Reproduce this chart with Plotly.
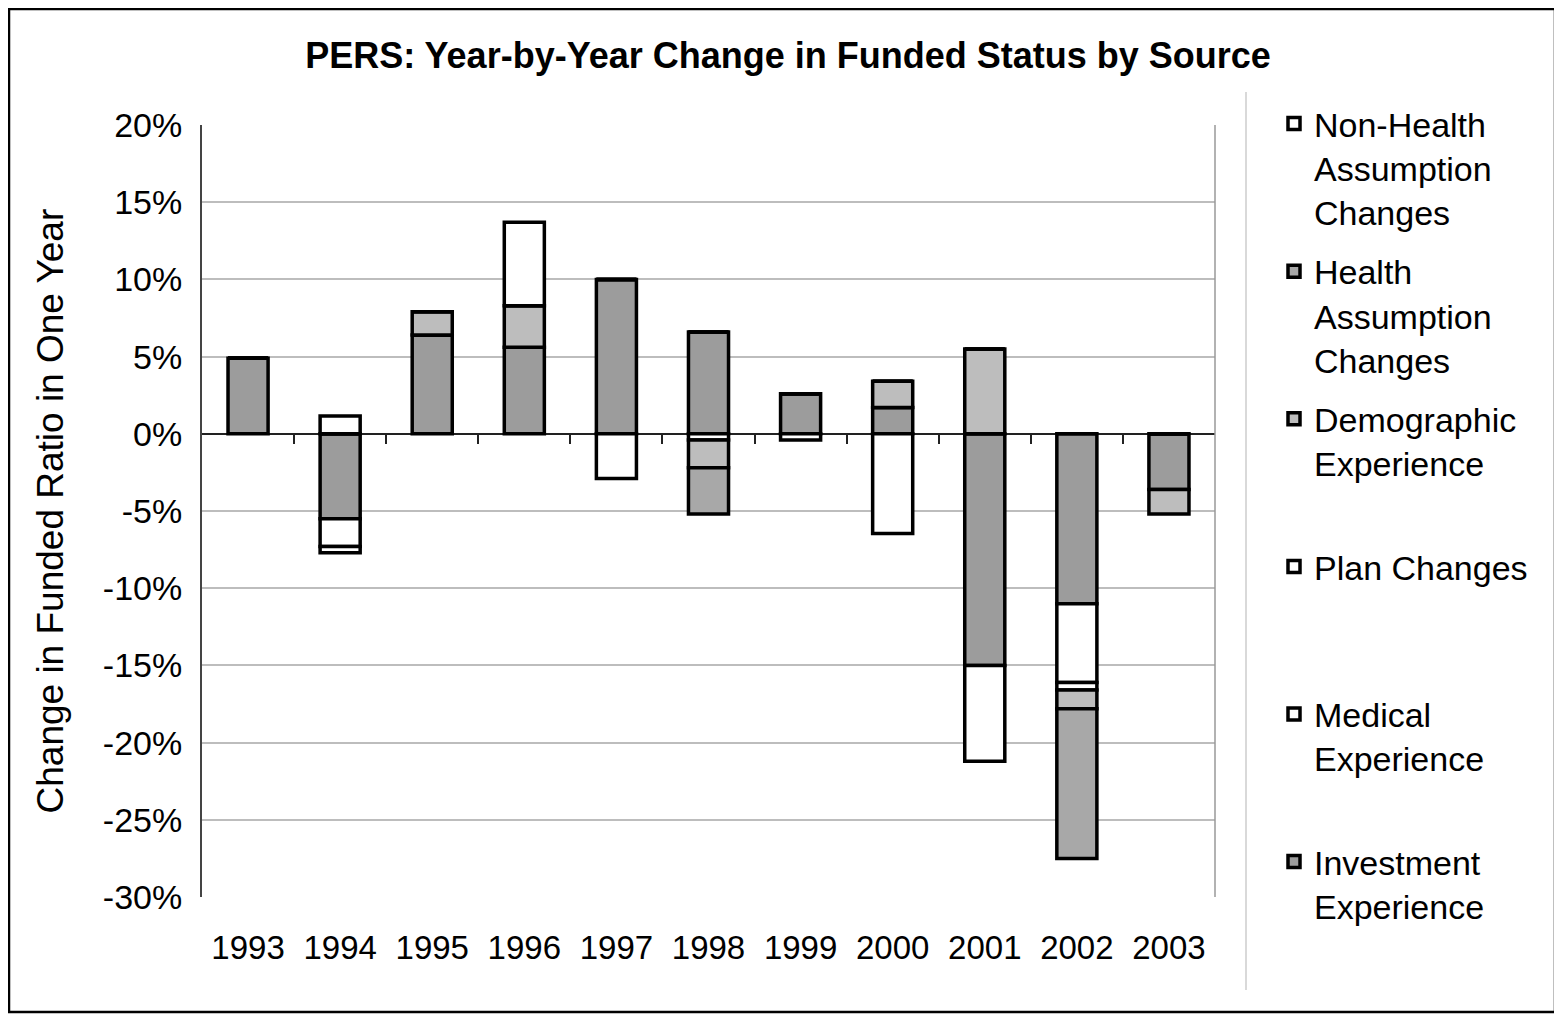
import plotly.graph_objects as go

years = ["1993", "1994", "1995", "1996", "1997", "1998", "1999", "2000", "2001", "2002", "2003"]

# values in percent (change in funded ratio), stack order from zero outward
investment = [4.9, -5.5, 6.4, 5.6, 10.0, 6.6, 2.6, 1.7, -15.0, -11.0, -3.6]
medical = [0, -1.8, 0, 0, -2.9, -0.4, -0.4, -6.45, -6.2, -5.1, 0]
plan = [0, -0.4, 0, 0, 0, 0, 0, 0, 0, -0.5, 0]
demographic = [0, 0, 1.5, 2.7, 0, -1.8, 0, 1.7, 5.5, -1.2, -1.6]
health = [0, 0, 0, 0, 0, -3.0, 0, 0, 0, -9.7, 0]
nonhealth = [0, 1.15, 0, 5.4, 0, 0, 0, 0, 0, 0, 0]

series = [
    ("Investment<br>Experience<br>\u00a0", investment, "#9c9c9c"),
    ("Medical<br>Experience<br>\u00a0", medical, "#ffffff"),
    ("Plan Changes<br>\u00a0<br>\u00a0", plan, "#ffffff"),
    ("Demographic<br>Experience<br>\u00a0", demographic, "#bdbdbd"),
    ("Health<br>Assumption<br>Changes", health, "#a8a8a8"),
    ("Non-Health<br>Assumption<br>Changes", nonhealth, "#ffffff"),
]

ytick_vals = [20, 15, 10, 5, 0, -5, -10, -15, -20, -25, -30]
ytick_text = ["20%", "15%", "10%", "5%", "0%", "-5%", "-10%", "-15%", "-20%", "-25%", "-30%"]

FONT = "Liberation Sans, Arial, sans-serif"

W, H = 1554, 1008
L, R, T, B = 194, 347, 117, 119
PW, PH = W - L - R, H - T - B


def px(xf):
    return (xf - L) / PW


def py(yf):
    return (H - B - yf) / PH


fig = go.Figure()
n = len(series)
for i, (name, vals, col) in enumerate(series):
    fig.add_trace(go.Bar(
        x=years, y=vals, name=name, legendgroup=f"g{i}", legendrank=n - i,
        marker=dict(color=col, line=dict(color="black", width=3.5)),
    ))

# empty helper trace so the zero-line category axis (with tick marks) is drawn
fig.add_trace(go.Scatter(x=[None], y=[None], xaxis="x2", yaxis="y",
                         showlegend=False, hoverinfo="skip", mode="markers"))

fig.update_layout(
    width=W, height=H,
    barmode="relative",
    bargap=0.565,
    paper_bgcolor="white",
    plot_bgcolor="white",
    margin=dict(l=L, r=R, t=T, b=B),
    font=dict(family=FONT, size=33, color="black"),
    title=dict(
        text="<b>PERS: Year-by-Year Change in Funded Status by Source</b>",
        x=780 / W, xanchor="center", y=1 - 47 / H, yanchor="middle",
        font=dict(size=36, family=FONT, color="black"),
    ),
    legend=dict(
        x=px(1266), xanchor="left", y=py(87), yanchor="top",
        traceorder="grouped",
        valign="top",
        font=dict(size=34, family=FONT, color="black"),
        bgcolor="rgba(0,0,0,0)",
        tracegroupgap=12,
        maxheight=1000,
    ),
    xaxis=dict(
        type="category", range=[-0.5, 10.5],
        showgrid=False, showline=False, ticks="",
        tickfont=dict(size=33, family=FONT, color="black"),
        ticklabelstandoff=28,
    ),
    yaxis=dict(
        range=[-30, 20], tickmode="array", tickvals=ytick_vals, ticktext=ytick_text,
        showgrid=True, gridcolor="#bdbdbd", gridwidth=1.5,
        zeroline=False,
        showline=True, linecolor="#444444", linewidth=2,
        ticks="",
        tickfont=dict(size=34, family=FONT, color="black"),
        ticklabelstandoff=11,
    ),
    xaxis2=dict(
        overlaying="x", anchor="free", position=0.6, side="bottom",
        range=[-0.5, 10.5], type="linear", fixedrange=True,
        tickmode="array", tickvals=[0.5 + i for i in range(10)],
        showticklabels=False, ticks="outside", ticklen=9, tickwidth=2, tickcolor="#222222",
        showline=True, linecolor="#222222", linewidth=2,
        showgrid=False, zeroline=False, layer="below traces",
    ),
    annotations=[
        dict(text="Change in Funded Ratio in One Year", textangle=-90,
             xref="paper", yref="paper", x=px(42), y=py(503.5),
             xanchor="center", yanchor="middle", showarrow=False,
             font=dict(size=37, family=FONT, color="black")),
    ],
    shapes=[
        dict(type="rect", xref="paper", yref="paper",
             x0=px(1), x1=px(1547), y0=py(1004), y1=py(1),
             line=dict(color="black", width=2.5), fillcolor="rgba(0,0,0,0)"),
        dict(type="line", xref="paper", yref="paper",
             x0=1, x1=1, y0=0, y1=1, line=dict(color="#999999", width=1.5)),
        dict(type="line", xref="paper", yref="paper",
             x0=px(1238), x1=px(1238), y0=py(982), y1=py(84),
             line=dict(color="#cccccc", width=1.5)),
    ],
)

fig.write_html("out.html")
